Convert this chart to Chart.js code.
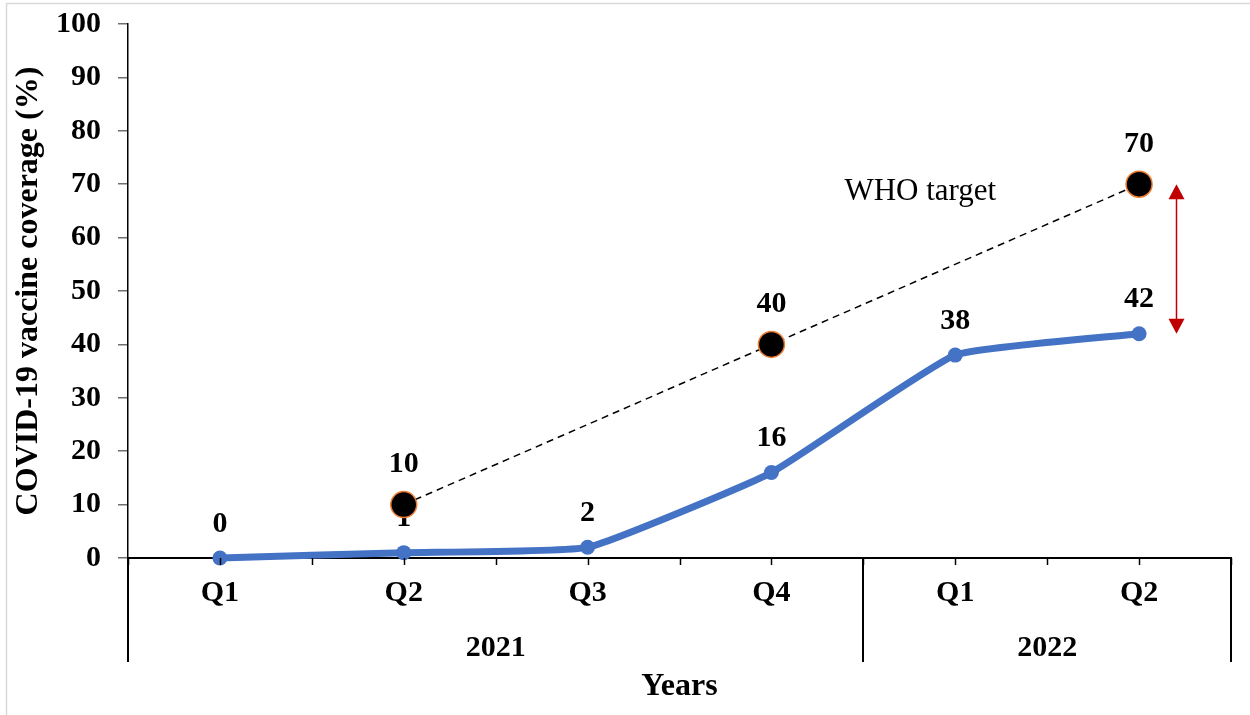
<!DOCTYPE html>
<html>
<head>
<meta charset="utf-8">
<script src="https://cdn.jsdelivr.net/npm/chart.js@4.4.1/dist/chart.umd.min.js"></script>
<style>
  html, body { margin: 0; padding: 0; background: #fff; }
  #wrap { width: 1250px; height: 715px; position: relative; }
</style>
</head>
<body>
<div id="wrap"><canvas id="c"></canvas></div>
<script>
// Quarterly COVID-19 vaccine coverage against the WHO target
const quarters = ['Q1', 'Q2', 'Q3', 'Q4', 'Q1', 'Q2'];
const years = ['2021', '2021', '2021', '2021', '2022', '2022'];
const coverage = [0, 1, 2, 16, 38, 42];
const whoTarget = [null, 10, null, 40, null, 70];
const whoLabel = 'WHO target';

const SERIF = "'Liberation Serif', 'Times New Roman', serif";

// Group consecutive quarters that share a year
function yearGroups() {
  const groups = [];
  years.forEach((yr, i) => {
    const last = groups[groups.length - 1];
    if (last && last.year === yr) last.end = i;
    else groups.push({ year: yr, start: i, end: i });
  });
  return groups;
}

const extras = {
  id: 'extras',
  beforeDraw(chart) {
    const { ctx, width, height } = chart;
    ctx.save();
    ctx.fillStyle = '#fff';
    ctx.fillRect(0, 0, width, height);
    ctx.strokeStyle = '#d9d9d9';
    ctx.lineWidth = 1.5;
    ctx.beginPath();
    ctx.moveTo(6.5, height);
    ctx.lineTo(6.5, 3.5);
    ctx.lineTo(width, 3.5);
    ctx.stroke();
    ctx.restore();
  },
  afterDatasetDraw(chart, args) {
    // value labels above each point, drawn right after their own series
    const { ctx } = chart;
    const ds = chart.data.datasets[args.index];
    const off = ds.labelOffset || 34;
    ctx.save();
    ctx.font = 'bold 30px ' + SERIF;
    ctx.fillStyle = '#000';
    ctx.textAlign = 'center';
    ctx.textBaseline = 'middle';
    args.meta.data.forEach((pt, i) => {
      const v = ds.data[i];
      if (v === null || v === undefined) return;
      ctx.fillText(String(Math.round(v)), pt.x, pt.y - off);
    });
    ctx.restore();
  },
  afterDraw(chart) {
    const { ctx, chartArea, scales: { x, y } } = chart;
    const base = chartArea.bottom;
    const groupBottom = base + 104;
    const groups = yearGroups();
    ctx.save();

    // short ticks at every category centre and boundary
    ctx.strokeStyle = '#000';
    ctx.lineWidth = 1.5;
    for (let k = -0.5; k <= quarters.length - 0.5 + 1e-6; k += 0.5) {
      const px = Math.round(x.getPixelForValue(k)) + 0.5;
      ctx.beginPath();
      ctx.moveTo(px, base);
      ctx.lineTo(px, base + 7);
      ctx.stroke();
    }

    // year separators
    const seps = [-0.5];
    groups.forEach(g => seps.push(g.end + 0.5));
    ctx.lineWidth = 2;
    seps.forEach(k => {
      const px = Math.round(x.getPixelForValue(k));
      ctx.beginPath();
      ctx.moveTo(px, base);
      ctx.lineTo(px, groupBottom);
      ctx.stroke();
    });

    // year labels
    ctx.font = 'bold 30px ' + SERIF;
    ctx.fillStyle = '#000';
    ctx.textAlign = 'center';
    ctx.textBaseline = 'middle';
    groups.forEach(g => {
      ctx.fillText(g.year, x.getPixelForValue((g.start + g.end) / 2), base + 90);
    });

    // series annotation
    ctx.font = '31px ' + SERIF;
    ctx.fillText(whoLabel, x.getPixelForValue(3.81), y.getPixelForValue(68.5));

    // gap between target and achieved coverage in the last quarter
    const last = quarters.length - 1;
    const ax = Math.round(x.getPixelForValue(last + 0.2)) + 0.5;
    const yTop = y.getPixelForValue(whoTarget[last]);
    const yBot = y.getPixelForValue(coverage[last]);
    const hw = 8, hl = 15;
    ctx.strokeStyle = '#c00000';
    ctx.fillStyle = '#c00000';
    ctx.lineWidth = 1.5;
    ctx.beginPath();
    ctx.moveTo(ax, yTop + hl - 1);
    ctx.lineTo(ax, yBot - hl + 1);
    ctx.stroke();
    ctx.beginPath();
    ctx.moveTo(ax, yTop);
    ctx.lineTo(ax + hw, yTop + hl);
    ctx.lineTo(ax - hw, yTop + hl);
    ctx.closePath();
    ctx.fill();
    ctx.beginPath();
    ctx.moveTo(ax, yBot);
    ctx.lineTo(ax + hw, yBot - hl);
    ctx.lineTo(ax - hw, yBot - hl);
    ctx.closePath();
    ctx.fill();

    ctx.restore();
  }
};

new Chart(document.getElementById('c'), {
  type: 'line',
  data: {
    labels: quarters,
    datasets: [
      {
        label: whoLabel,
        data: whoTarget,
        spanGaps: true,
        borderColor: '#000',
        borderWidth: 1.5,
        borderDash: [7, 5],
        pointRadius: 13,
        pointBackgroundColor: '#000',
        pointBorderColor: '#ed7d31',
        pointBorderWidth: 1.5,
        pointHoverRadius: 13,
        tension: 0,
        clip: false,
        labelOffset: 40
      },
      {
        label: 'Coverage',
        data: coverage,
        borderColor: '#4472c4',
        borderWidth: 7,
        pointRadius: 7.5,
        pointBackgroundColor: '#4472c4',
        pointBorderColor: '#4472c4',
        pointBorderWidth: 0,
        pointHoverRadius: 7.5,
        tension: 0.12,
        clip: false,
        labelOffset: 34
      }
    ]
  },
  options: {
    responsive: true,
    maintainAspectRatio: false,
    animation: false,
    events: [],
    layout: { padding: { left: 6, top: 24, right: 19, bottom: 5 } },
    plugins: {
      legend: { display: false },
      tooltip: { enabled: false },
      title: { display: false }
    },
    scales: {
      x: {
        type: 'category',
        offset: true,
        grid: { display: false, drawTicks: false },
        border: { display: true, color: '#000', width: 2 },
        ticks: {
          color: '#000',
          font: { family: SERIF, size: 30, weight: 'bold' },
          padding: 17,
          maxRotation: 0,
          autoSkip: false
        },
        title: {
          display: true,
          text: 'Years',
          color: '#000',
          font: { family: SERIF, size: 32, weight: 'bold' },
          padding: { top: 4, bottom: 4 }
        },
        afterFit(scale) {
          scale.height = 152;
          scale.paddingLeft = 0;
          scale.paddingRight = 0;
        }
      },
      y: {
        min: 0,
        max: 100,
        ticks: {
          stepSize: 10,
          color: '#000',
          font: { family: SERIF, size: 30, weight: 'bold' },
          padding: 17
        },
        grid: { drawOnChartArea: false, drawTicks: true, tickLength: 10, color: '#6f6f6f', lineWidth: 1.5 },
        border: { display: true, color: '#000', width: 1.5 },
        title: {
          display: true,
          text: 'COVID-19 vaccine coverage (%)',
          color: '#000',
          font: { family: SERIF, size: 32, weight: 'bold' },
          padding: { top: 4, bottom: 4 }
        },
        afterFit(scale) {
          scale.width = 122;
          scale.paddingTop = 0;
          scale.paddingBottom = 0;
        }
      }
    }
  },
  plugins: [extras]
});
</script>
</body>
</html>
